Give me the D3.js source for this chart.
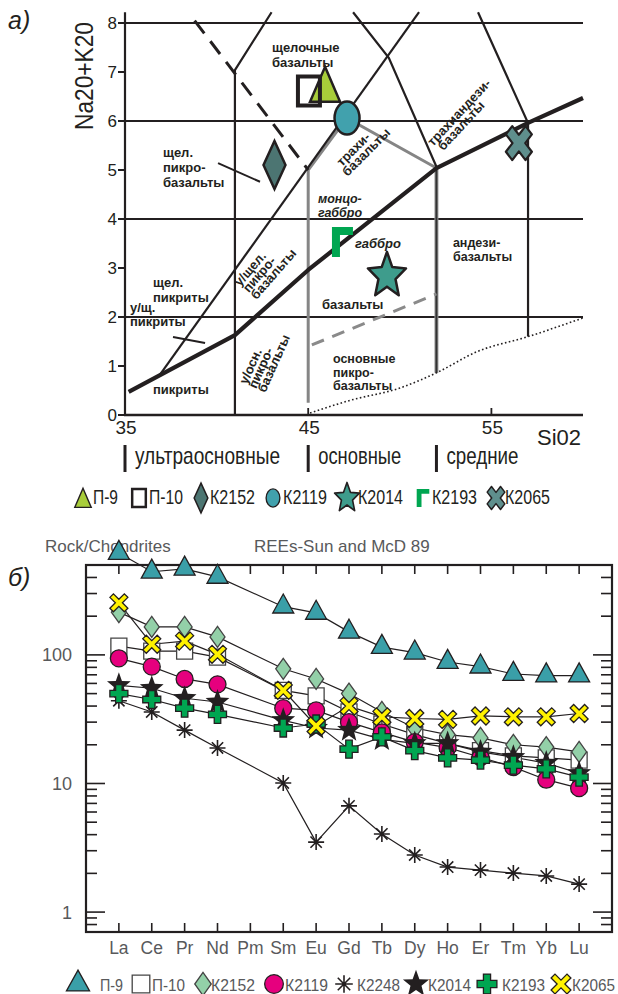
<!DOCTYPE html>
<html><head><meta charset="utf-8">
<script src="https://cdn.jsdelivr.net/npm/d3@7"></script>
<style>body{margin:0;background:#fff} svg{display:block} text{font-family:"Liberation Sans",Arial,sans-serif}</style>
</head><body><svg id="c" width="618" height="994"></svg>
<script>
// ================= DATA: TAS diagram (top) =================
const tasSamples = ["П-9","П-10","К2152","К2119","К2014","К2193","К2065"];
const tasSiO2    = [45.92, 45.04, 43.16, 47.12, 49.30, 46.87, 56.50];
const tasAlk     = [6.63, 6.61, 5.10, 6.06, 2.84, 3.53, 5.55];
const tasYTicks  = [0,1,2,3,4,5,6,7,8];
const tasGridY   = [2,4,6,8];
const tasXLabels = [35,45,55];
const tasThick   = [[35.2,0.47],[41,1.63],[45,2.96],[52,5.04],[57,5.96],[60,6.47]];
const tasThin    = [
  [[36.9,0.82],[51.05,8.22]],
  [[41,0],[41,7.04],[43.0,8.22]],
  [[47.45,8.22],[49.4,7.29],[52.03,5.04]],
  [[54.27,8.22],[57,5.96],[57,1.6]]
];
const tasGray     = [[45,0.25],[45,5.0],[47.1,6.06],[52,5.04]];
const tasGrayDark = [[52,5.04],[52,0.86]];
const tasDashBlk  = [[38.8,8.05],[45,5.0]];
const tasDashGray = [[45.2,1.43],[52,2.47]];
const tasDotted   = [[45.1,0.04],[47.3,0.3],[50,0.55],[52,0.86],[54.2,1.29],[57,1.6],[60,1.98]];
const tasPointers = [[[40.08,5.14],[42.37,4.76]],[[37.62,1.59],[39.37,1.47]]];
const tasLabels = [
  {lines:["щелочные","базальты"], x:43.02, y:7.41, lh:15, fs:13},
  {lines:["щел.","пикро-","базальты"], x:37.07, y:5.27, lh:15, fs:13},
  {lines:["монцо-","габбро"], x:45.53, y:4.32, lh:13.5, fs:12.5, it:true},
  {lines:["габбро"], x:47.55, y:3.41, lh:12, fs:13, it:true},
  {lines:["базальты"], x:45.75, y:2.16, lh:12, fs:13},
  {lines:["андези-","базальты"], x:52.90, y:3.42, lh:13.5, fs:12.5},
  {lines:["основные","пикро-","базальты"], x:46.35, y:1.06, lh:13.5, fs:12.5},
  {lines:["щел.","пикриты"], x:36.53, y:2.61, lh:15, fs:13},
  {lines:["у/щ.","пикриты"], x:35.27, y:2.10, lh:14, fs:13},
  {lines:["пикриты"], x:36.53, y:0.43, lh:14, fs:13}
];
const tasRotLabels = [
  {lines:["трахи-","базальты"], dxs:[0,-3], x:46.84, y:5.06, a:-45, lh:11},
  {lines:["трахиандези-","базальты"], dxs:[0,4], x:51.81, y:5.47, a:-47, lh:10.5},
  {lines:["у/щел.","пикро-","базальты"], dxs:[0,1,1], x:41.28, y:2.61, a:-49, lh:10.5},
  {lines:["у/осн.","пикро-","базальты"], dxs:[0,0,0], x:41.66, y:0.61, a:-66, lh:10}
];
const rockGroups = ["ультраосновные","основные","средние"];
const rockGroupX = [35, 45, 52];

// ================= DATA: REE spider (bottom) =================
const ree = ["La","Ce","Pr","Nd","Pm","Sm","Eu","Gd","Tb","Dy","Ho","Er","Tm","Yb","Lu"];
const reeMajor = [1,10,100];
const vP9    = [620,443,467,404,null,237,212,151,115,104,88,81,71,69,69];
const vP10   = [117,107,107,96,null,53,48,36,29,24,20.5,18,16.4,15.8,15.2];
const vK2152 = [215,165,165,138,null,78,65,50,36,27,24,22.6,20,19.2,17.6];
const vK2119 = [94,81,65,59,null,38.5,37,30,25,21,19,16,13.4,10.7,9.2];
const vK2248 = [44,36,26,18.9,null,10.1,3.5,6.7,4.05,2.78,2.24,2.12,2.01,1.91,1.65];
const vK2014 = [58,55,46,43,null,31,27,26,22,20.5,20.5,17.6,16,14.4,12];
const vK2193 = [50,45,38.5,34.5,null,27,29,18.5,23,18,15.8,15.2,13.9,13,11.2];
const vK2065 = [254,121,128,101,null,53,28,40,33,32,31.5,33.5,33,33,35];
const reeNames  = ["П-9","П-10","К2152","К2119","К2248","К2014","К2193","К2065"];
const reeValues = [vP9,vP10,vK2152,vK2119,vK2248,vK2014,vK2193,vK2065];

// ================= shapes =================
const P = pts => "M"+pts.map(p=>p[0].toFixed(2)+","+p[1].toFixed(2)).join("L")+"Z";
const triPts = (w,h)=>[[0,-2*h/3],[w/2,h/3],[-w/2,h/3]];
const diaPts = (w,h)=>[[0,-h/2],[w/2,0],[0,h/2],[-w/2,0]];
const rectPts= (w,h)=>[[-w/2,-h/2],[w/2,-h/2],[w/2,h/2],[-w/2,h/2]];
function starPts(rx,ry,k){const p=[];for(let i=0;i<10;i++){const a=i*Math.PI/5,r=i%2?k:1;p.push([rx*r*Math.sin(a),-ry*r*Math.cos(a)]);}return p;}
function plusPts(s,t){const h=t/2;return [[-h,-s],[h,-s],[h,-h],[s,-h],[s,h],[h,h],[h,s],[-h,s],[-h,h],[-s,h],[-s,-h],[-h,-h]];}
function xPts(sx,sy,t){const s=sx,d=t/Math.SQRT2,k=sy/sx;
  return [[-s,-s+d],[-s+d,-s],[0,-d],[s-d,-s],[s,-s+d],[d,0],[s,s-d],[s-d,s],[0,d],[-s+d,s],[-s,s-d],[-d,0]].map(p=>[p[0],p[1]*k]);}
function gammaPts(w,h,t){return [[-w/2,-h/2],[w/2,-h/2],[w/2,-h/2+t],[-w/2+t,-h/2+t],[-w/2+t,h/2],[-w/2,h/2]];}
function asterPath(r){const d=r*0.707;return `M${-r},0L${r},0M0,${-r}L0,${r}M${-d},${-d}L${d},${d}M${-d},${d}L${d},${-d}`;}

const svg = d3.select("#c");
const INK = "#231f20";

// ================= TOP PANEL =================
const xT = d3.scaleLinear().domain([35,60]).range([125,583]);
const yT = d3.scaleLinear().domain([0,8]).range([415,23]);
const lT = d3.line().x(d=>xT(d[0])).y(d=>yT(d[1]));
const gT = svg.append("g");

gT.selectAll("line.grid").data(tasGridY).join("line")
  .attr("x1",xT(35)).attr("x2",xT(60)).attr("y1",d=>yT(d)).attr("y2",d=>yT(d))
  .attr("stroke",INK).attr("stroke-width",2);

gT.append("path").attr("d",lT(tasGray)).attr("fill","none").attr("stroke","#858585").attr("stroke-width",3);
gT.append("path").attr("d",lT(tasGrayDark)).attr("fill","none").attr("stroke","#9a9a9a").attr("stroke-width",4);
gT.append("path").attr("d",lT(tasGrayDark)).attr("fill","none").attr("stroke","#333").attr("stroke-width",2);
gT.append("path").attr("d",lT(tasDashGray)).attr("fill","none").attr("stroke","#8a8a8a").attr("stroke-width",3).attr("stroke-dasharray","13,9");
gT.append("path").attr("d",lT.curve(d3.curveMonotoneX)(tasDotted)).attr("fill","none").attr("stroke",INK).attr("stroke-width",1.6).attr("stroke-dasharray","1.6,2.4");
lT.curve(d3.curveLinear);
gT.append("path").attr("d",lT(tasDashBlk)).attr("fill","none").attr("stroke",INK).attr("stroke-width",3).attr("stroke-dasharray","16,10");
tasThin.forEach(s=>gT.append("path").attr("d",lT(s)).attr("fill","none").attr("stroke",INK).attr("stroke-width",2.2));
gT.append("path").attr("d",lT(tasThick)).attr("fill","none").attr("stroke",INK).attr("stroke-width",4.2).attr("stroke-linejoin","round");
tasPointers.forEach(s=>gT.append("path").attr("d",lT(s)).attr("fill","none").attr("stroke",INK).attr("stroke-width",2));

// axes
gT.append("line").attr("x1",xT(35)).attr("x2",xT(35)).attr("y1",yT(0)).attr("y2",yT(8.22)).attr("stroke",INK).attr("stroke-width",2.2);
gT.append("line").attr("x1",xT(35)-1).attr("x2",xT(60)).attr("y1",yT(0)).attr("y2",yT(0)).attr("stroke",INK).attr("stroke-width",2.6);
gT.selectAll("line.yt").data(tasYTicks).join("line").attr("x1",xT(35)-7).attr("x2",xT(35)).attr("y1",d=>yT(d)).attr("y2",d=>yT(d)).attr("stroke",INK).attr("stroke-width",2);
gT.selectAll("text.yt").data(tasYTicks).join("text").attr("x",xT(35)-8).attr("y",d=>yT(d)+6).attr("text-anchor","end")
  .attr("font-size",17).attr("fill",INK).text(d=>d);
gT.selectAll("line.xt").data(tasXLabels.slice(1)).join("line").attr("x1",d=>xT(d)).attr("x2",d=>xT(d)).attr("y1",yT(0)).attr("y2",yT(0)-7).attr("stroke",INK).attr("stroke-width",1.8);
gT.selectAll("text.xt").data(tasXLabels).join("text").attr("x",d=>xT(d)+1).attr("y",yT(0)+19).attr("text-anchor","middle")
  .attr("font-size",19).attr("fill",INK).text(d=>d);
gT.append("text").attr("x",537).attr("y",445).attr("font-size",22).attr("fill",INK).text("Si02");
gT.append("text").attr("transform","translate(93,76) rotate(-90)").attr("text-anchor","middle").attr("font-size",25)
  .attr("textLength",108).attr("lengthAdjust","spacingAndGlyphs").attr("fill",INK).text("Na20+K20");
gT.append("text").attr("x",8).attr("y",29).attr("font-family","'Liberation Serif',serif").attr("font-style","italic").attr("font-size",25).attr("fill",INK).text("а)");

// region labels
tasLabels.forEach(L=>{
  const t = gT.append("text").attr("font-size",L.fs).attr("font-weight","bold").attr("fill",INK)
    .attr("font-style",L.it?"italic":"normal");
  L.lines.forEach((s,i)=>t.append("tspan").attr("x",xT(L.x)).attr("y",yT(L.y)+i*L.lh).text(s));
});
tasRotLabels.forEach(L=>{
  const t = gT.append("text").attr("font-size",13).attr("font-weight","bold").attr("fill",INK)
    .attr("transform",`translate(${xT(L.x)},${yT(L.y)}) rotate(${L.a})`);
  L.lines.forEach((s,i)=>t.append("tspan").attr("x",L.dxs[i]).attr("y",i*L.lh).text(s));
});

// rock groups
const grpW = [145,83,72];
rockGroups.forEach((g,i)=>{
  gT.append("line").attr("x1",xT(rockGroupX[i])).attr("x2",xT(rockGroupX[i])).attr("y1",445).attr("y2",472).attr("stroke",INK).attr("stroke-width",3);
  gT.append("text").attr("x",xT(rockGroupX[i])+10).attr("y",464).attr("font-size",24).attr("fill",INK)
    .attr("textLength",grpW[i]).attr("lengthAdjust","spacingAndGlyphs").text(g);
});

// TAS markers
function tasMarker(g,i,cx,cy,sc){
  const tr=`translate(${cx},${cy}) scale(${sc})`;
  const name=tasSamples[i];
  if(name==="П-9") g.append("path").attr("d",P(triPts(30,35))).attr("transform",tr).attr("fill","#a8cd3a").attr("stroke",INK).attr("stroke-width",2.5);
  if(name==="П-10") g.append("path").attr("d",P(rectPts(22,29))).attr("transform",tr).attr("fill","none").attr("stroke",INK).attr("stroke-width",4);
  if(name==="К2152") g.append("path").attr("d",P(diaPts(22,48))).attr("transform",tr).attr("fill","#4c7572").attr("stroke",INK).attr("stroke-width",2.5);
  if(name==="К2119") g.append("ellipse").attr("rx",12.5).attr("ry",16.5).attr("transform",tr).attr("fill","#41a1ad").attr("stroke",INK).attr("stroke-width",2.5);
  if(name==="К2014") g.append("path").attr("d",P(starPts(20,24,0.45))).attr("transform",tr).attr("fill","#3e9c8c").attr("stroke",INK).attr("stroke-width",2.5).attr("stroke-linejoin","round");
  if(name==="К2193") g.append("path").attr("d",P(gammaPts(21,30,8))).attr("transform",tr).attr("fill","#00a651");
  if(name==="К2065") g.append("path").attr("d",P(xPts(13,17,9))).attr("transform",tr).attr("fill","#5f8f8d").attr("stroke",INK).attr("stroke-width",2.2).attr("stroke-linejoin","round");
}
[0,1,2,3,4,5,6].forEach(i=>tasMarker(gT,i,xT(tasSiO2[i]),yT(tasAlk[i]),1));

// top legend
const tLegX=[83,139,201,273,347,423,496], tLegTX=[93,149,210,283,358,432,505], tLegW=[25,34,45,44,45,45,45];
const tLegScale=[0.55,0.62,0.62,0.55,0.65,0.6,0.68];
tasSamples.forEach((s,i)=>{
  tasMarker(gT,i,tLegX[i],i===0?501:498,tLegScale[i]);
  gT.append("text").attr("x",tLegTX[i]).attr("y",504).attr("font-size",20).attr("fill",INK)
    .attr("textLength",tLegW[i]).attr("lengthAdjust","spacingAndGlyphs").text(s);
});

// ================= BOTTOM PANEL =================
const GRY="#58595b";
const xB = d3.scalePoint().domain(ree).range([86,612]).padding(1);
const yB = d3.scaleLog().domain([0.7,500]).range([932,565]);
const gB = svg.append("g");
const minorT = yB.ticks().filter(v=>v>0.7 && v<500 && !reeMajor.includes(v));
[[86,1],[612,-1]].forEach(([x0,dir])=>{
  gB.selectAll(null).data(minorT).join("line").attr("x1",x0).attr("x2",x0+dir*11).attr("y1",d=>yB(d)).attr("y2",d=>yB(d)).attr("stroke",INK).attr("stroke-width",1.6);
  gB.selectAll(null).data(reeMajor).join("line").attr("x1",x0).attr("x2",x0+dir*19).attr("y1",d=>yB(d)).attr("y2",d=>yB(d)).attr("stroke",INK).attr("stroke-width",1.6);
});
gB.selectAll(null).data(ree).join("line").attr("x1",d=>xB(d)).attr("x2",d=>xB(d)).attr("y1",565).attr("y2",574).attr("stroke",INK).attr("stroke-width",1.6);
gB.selectAll(null).data(ree).join("line").attr("x1",d=>xB(d)).attr("x2",d=>xB(d)).attr("y1",932).attr("y2",923).attr("stroke",INK).attr("stroke-width",1.6);
gB.append("rect").attr("x",86).attr("y",565).attr("width",526).attr("height",367).attr("fill","none").attr("stroke",INK).attr("stroke-width",2.2);
gB.selectAll(null).data(reeMajor).join("text").attr("x",72).attr("y",d=>yB(d)+6.5).attr("text-anchor","end").attr("font-size",18).attr("fill",GRY).text(d=>d);
gB.selectAll(null).data(ree).join("text").attr("x",d=>xB(d)).attr("y",954).attr("text-anchor","middle").attr("font-size",17.5).attr("fill",GRY).text(d=>d);
gB.append("text").attr("x",45).attr("y",552).attr("font-size",17).attr("fill",GRY).text("Rock/Chondrites");
gB.append("text").attr("x",254).attr("y",552).attr("font-size",17).attr("fill",GRY).text("REEs-Sun and McD 89");
gB.append("text").attr("x",8).attr("y",586).attr("font-family","'Liberation Serif',serif").attr("font-style","italic").attr("font-size",25).attr("fill",INK).text("б)");

const lB = d3.line().x(d=>xB(d.k)).y(d=>yB(d.v));
const pts = arr => ree.map((k,i)=>({k,v:arr[i]})).filter(d=>d.v!=null);
reeValues.forEach(arr=>gB.append("path").attr("d",lB(pts(arr))).attr("fill","none").attr("stroke",INK).attr("stroke-width",1.2));

function reeMarker(g,name,cx,cy,sc){
  const tr=`translate(${cx},${cy}) scale(${sc})`;
  const sw=1.3/sc;
  if(name==="П-9") g.append("path").attr("d",P(triPts(21,19))).attr("transform",tr).attr("fill","#3a9fa8").attr("stroke",INK).attr("stroke-width",sw);
  if(name==="П-10") g.append("path").attr("d",P(rectPts(16,16))).attr("transform",tr).attr("fill","#fff").attr("stroke","#444").attr("stroke-width",sw);
  if(name==="К2152") g.append("path").attr("d",P(diaPts(15,21))).attr("transform",tr).attr("fill","#93d0a8").attr("stroke","#444").attr("stroke-width",sw);
  if(name==="К2119") g.append("circle").attr("r",8.5).attr("transform",tr).attr("fill","#e6007e").attr("stroke",INK).attr("stroke-width",sw);
  if(name==="К2248") g.append("path").attr("d",asterPath(8)).attr("transform",tr).attr("fill","none").attr("stroke",INK).attr("stroke-width",1.6/sc);
  if(name==="К2014") g.append("path").attr("d",P(starPts(12.5,13,0.42))).attr("transform",tr).attr("fill",INK);
  if(name==="К2193") g.append("path").attr("d",P(plusPts(9,6.5))).attr("transform",tr).attr("fill","#00a651").attr("stroke",INK).attr("stroke-width",sw);
  if(name==="К2065") g.append("path").attr("d",P(xPts(9,9,5))).attr("transform",tr).attr("fill","#fff200").attr("stroke",INK).attr("stroke-width",sw);
}
reeValues.forEach((arr,s)=>pts(arr).forEach(d=>reeMarker(gB,reeNames[s],xB(d.k),yB(d.v),1)));

// bottom legend
const bLegX=[78,141,203,274,344,416,487,561], bLegTX=[100,152,211,285,357,428,502,572];
const bLegW=[23,33,44,43,43,43,43,43];
reeNames.forEach((n,i)=>{
  reeMarker(gB,n,bLegX[i],984,1.1);
  gB.append("text").attr("x",bLegTX[i]).attr("y",991).attr("font-size",16.5).attr("fill",GRY)
    .attr("textLength",bLegW[i]).attr("lengthAdjust","spacingAndGlyphs").text(n);
});
</script></body></html>
